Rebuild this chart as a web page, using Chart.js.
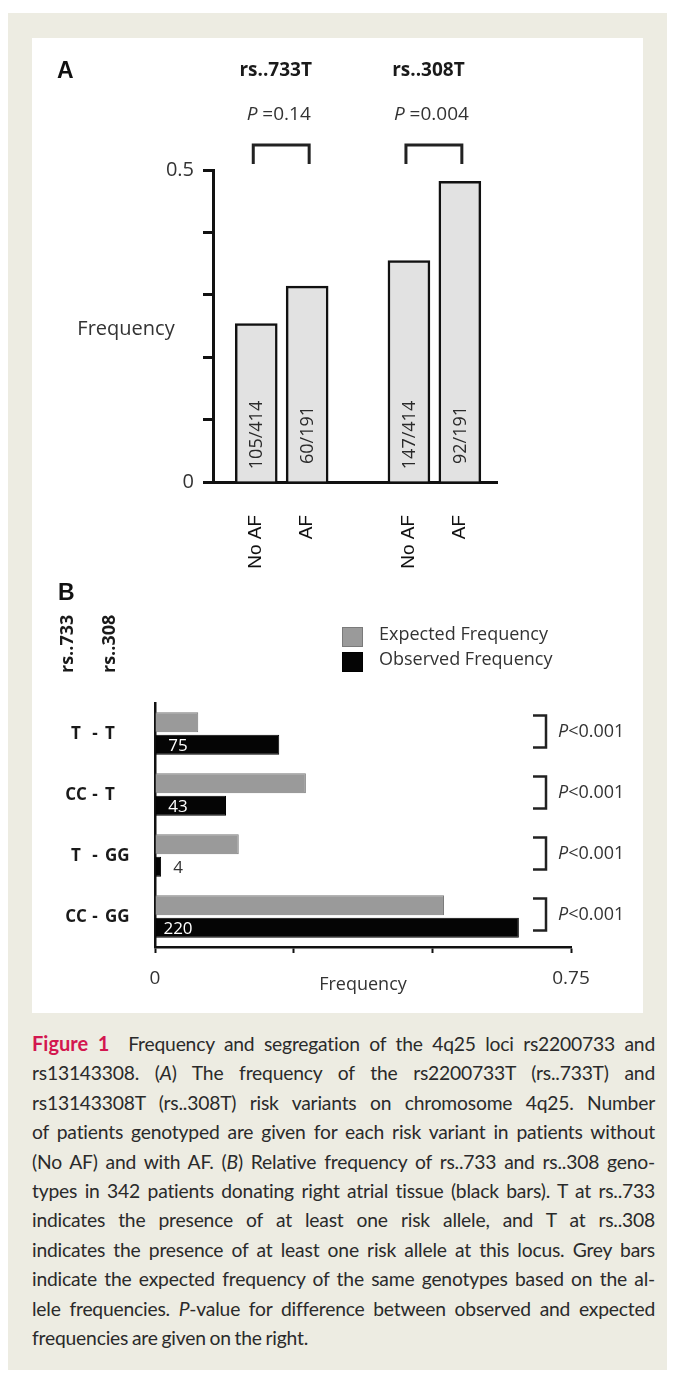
<!DOCTYPE html>
<html>
<head>
<meta charset="utf-8">
<script src="https://cdn.jsdelivr.net/npm/chart.js@4.4.1/dist/chart.umd.min.js"></script>
<style>
  body { margin: 0; background: #fff; }
  #page { position: relative; width: 675px; height: 1382px; overflow: hidden; }
  #beige { position: absolute; left: 8px; top: 13px; width: 659px; height: 1357px; background: #edece2; }
  #white { position: absolute; left: 32px; top: 38px; width: 611px; height: 975px; background: #fff; }
  canvas { position: absolute; left: 0; }
  #chartA { top: 0; }
  #chartB { top: 575px; }
  #caption { position: absolute; left: 32px; top: 1029px; width: 623px; font-family: Lato, "Open Sans", sans-serif;
             font-size: 19.3px; line-height: 29.4px; color: #2a2a2a; letter-spacing: -0.2px; word-spacing: -1px; }
  #caption div { text-align: justify; text-align-last: justify; white-space: nowrap; }
  #caption div.last { text-align-last: left; }
  #caption b { color: #d3174f; font-size: 20px; letter-spacing: 0; }
</style>
</head>
<body>
<div id="page">
  <div id="beige"></div>
  <div id="white"></div>
  <canvas id="chartA" width="675" height="580"></canvas>
  <canvas id="chartB" width="675" height="440"></canvas>
  <div id="caption">
    <div><b>Figure 1</b>&nbsp; Frequency and segregation of the 4q25 loci rs2200733 and</div>
    <div>rs13143308. (<i>A</i>) The frequency of the rs2200733T (rs..733T) and</div>
    <div>rs13143308T (rs..308T) risk variants on chromosome 4q25. Number</div>
    <div>of patients genotyped are given for each risk variant in patients without</div>
    <div>(No AF) and with AF. (<i>B</i>) Relative frequency of rs..733 and rs..308 geno-</div>
    <div>types in 342 patients donating right atrial tissue (black bars). T at rs..733</div>
    <div>indicates the presence of at least one risk allele, and T at rs..308</div>
    <div>indicates the presence of at least one risk allele at this locus. Grey bars</div>
    <div>indicate the expected frequency of the same genotypes based on the al-</div>
    <div>lele frequencies. <i>P</i>-value for difference between observed and expected</div>
    <div class="last">frequencies are given on the right.</div>
  </div>
</div>
<script>
// panel A data
var lociA = ['rs..733T', 'rs..308T'];
var pValuesA = ['0.14', '0.004'];
var afLabels = ['No AF', 'AF', 'No AF', 'AF'];
var afFreq = [0.254, 0.314, 0.355, 0.482];
var afCounts = ['105/414', '60/191', '147/414', '92/191'];
var yTicksA = ['0', '0.5'];

// panel B data
var lociB = ['rs..733', 'rs..308'];
var genotypes = ['T - T', 'CC - T', 'T - GG', 'CC - GG'];
var expectedFreq = [0.078, 0.272, 0.151, 0.521];
var observedFreq = [0.224, 0.128, 0.011, 0.656];
var observedN = ['75', '43', '4', '220'];
var pValuesB = ['<0.001', '<0.001', '<0.001', '<0.001'];
var xTicksB = ['0', '0.75'];

var sans = '"Open Sans", sans-serif';
var arial = '"Liberation Sans", Arial, sans-serif';

// slot on the x axis: two bars per locus, one empty slot between loci
function slot(i) { return i + 1 + Math.floor(i / 2); }

function italicLead(ctx, lead, rest, x, y, size, align) {
    ctx.font = 'italic ' + size + 'px ' + sans;
    var w1 = ctx.measureText(lead).width;
    ctx.font = size + 'px ' + sans;
    var w2 = ctx.measureText(rest).width;
    var x0 = align === 'center' ? x - (w1 + w2) / 2 : x;
    ctx.textAlign = 'left';
    ctx.font = 'italic ' + size + 'px ' + sans;
    ctx.fillText(lead, x0, y);
    ctx.font = size + 'px ' + sans;
    ctx.fillText(rest, x0 + w1, y);
}

/*=============================================
PANEL A
=============================================*/
var extrasA = {
    id: 'extrasA',
    afterDraw: function (chart) {
        var ctx = chart.ctx;
        var bars = chart.getDatasetMeta(0).data;
        ctx.save();
        ctx.textBaseline = 'middle';
        ctx.fillStyle = '#111';
        ctx.textAlign = 'left';
        ctx.font = 'bold 23px ' + arial;
        ctx.fillText('A', 57, 72);

        lociA.forEach(function (name, g) {
            var b1 = bars[2 * g], b2 = bars[2 * g + 1];
            var cx = (b1.x + b2.x) / 2;
            ctx.font = 'bold 19px ' + sans;
            ctx.textAlign = 'center';
            ctx.fillStyle = '#1a1a1a';
            ctx.fillText(name, cx - 6, 71);
            ctx.fillStyle = '#333';
            italicLead(ctx, 'P', ' =' + pValuesA[g], cx - 3, 115, 19, 'center');

            ctx.strokeStyle = '#222';
            ctx.lineWidth = 3;
            ctx.beginPath();
            ctx.moveTo(b1.x - 3, 164);
            ctx.lineTo(b1.x - 3, 145);
            ctx.lineTo(b2.x + 2, 145);
            ctx.lineTo(b2.x + 2, 164);
            ctx.stroke();
        });

        // counts inside the bars
        ctx.fillStyle = '#2a2a2a';
        ctx.font = '18px ' + sans;
        bars.forEach(function (bar, i) {
            ctx.save();
            ctx.translate(bar.x + 1, 435);
            ctx.rotate(-Math.PI / 2);
            ctx.textAlign = 'center';
            ctx.fillText(afCounts[i], 0, 0);
            ctx.restore();
        });

        // horizontal y title
        ctx.fillStyle = '#333';
        ctx.font = '20px ' + sans;
        ctx.textAlign = 'center';
        ctx.fillText('Frequency', 126, 329);
        ctx.restore();
    }
};

new Chart(document.getElementById('chartA'), {
    type: 'bar',
    data: {
        datasets: [{
            data: afFreq.map(function (v, i) { return { x: slot(i), y: v }; }),
            backgroundColor: '#e2e2e2',
            borderColor: '#111',
            borderWidth: 2.5,
            barThickness: 42
        }]
    },
    options: {
        responsive: false,
        animation: false,
        layout: { padding: { left: 0, top: 170, right: 178, bottom: 0 } },
        plugins: { legend: { display: false }, tooltip: { enabled: false } },
        scales: {
            x: {
                type: 'linear',
                offset: false,
                min: 0.15,
                max: 5.73,
                grid: { display: false },
                border: { color: '#111', width: 3 },
                afterBuildTicks: function (axis) {
                    axis.ticks = afLabels.map(function (l, i) { return { value: slot(i) }; });
                },
                ticks: {
                    autoSkip: false,
                    minRotation: 90,
                    maxRotation: 90,
                    padding: 25,
                    color: '#111',
                    font: { family: arial, size: 19 },
                    callback: function (v, i) { return afLabels[i]; }
                },
                afterFit: function (axis) { axis.height = 98; }
            },
            y: {
                min: 0,
                max: 0.5,
                grid: { drawOnChartArea: false, tickLength: 10, tickWidth: 3, tickColor: '#111' },
                border: { color: '#111', width: 3 },
                ticks: {
                    stepSize: 0.1,
                    padding: 9,
                    color: '#333',
                    font: { family: sans, size: 20 },
                    callback: function (v) {
                        var s = String(+v.toFixed(2));
                        return yTicksA.indexOf(s) >= 0 ? s : '';
                    }
                },
                afterFit: function (axis) { axis.width = 213; }
            }
        }
    },
    plugins: [extrasA]
});

/*=============================================
PANEL B
=============================================*/
var extrasB = {
    id: 'extrasB',
    afterDraw: function (chart) {
        var ctx = chart.ctx;
        var xs = chart.scales.x, ys = chart.scales.y;
        var area = chart.chartArea;
        ctx.save();
        ctx.textBaseline = 'middle';
        ctx.textAlign = 'left';
        ctx.fillStyle = '#111';
        ctx.font = 'bold 23px ' + arial;
        ctx.fillText('B', 58, 19);

        // rotated locus headers
        ctx.fillStyle = '#1a1a1a';
        ctx.font = 'bold 18px ' + sans;
        [68, 110].forEach(function (x, k) {
            ctx.save();
            ctx.translate(x, 98);
            ctx.rotate(-Math.PI / 2);
            ctx.textAlign = 'left';
            ctx.fillText(lociB[k], 0, 0);
            ctx.restore();
        });

        // legend
        chart.data.datasets.forEach(function (d, i) {
            var y = 52 + i * 25;
            ctx.fillStyle = d.backgroundColor;
            ctx.fillRect(342, y, 21, 20);
            ctx.strokeStyle = d.borderColor;
            ctx.lineWidth = 1;
            ctx.strokeRect(342.5, y + 0.5, 20, 19);
            ctx.fillStyle = '#333';
            ctx.font = '18px ' + sans;
            ctx.textAlign = 'left';
            ctx.fillText(d.label, 379, y + 8);
        });

        // genotype labels in two columns
        ctx.fillStyle = '#1a1a1a';
        ctx.font = 'bold 17px ' + sans;
        genotypes.forEach(function (g, i) {
            var parts = g.split(' - ');
            var y = ys.getPixelForValue(i) + 1;
            ctx.textAlign = 'center';
            ctx.fillText(parts[0], 76, y);
            ctx.fillText('-', 95, y);
            ctx.textAlign = 'left';
            ctx.fillText(parts[1], 105, y);
        });

        // counts on observed bars
        var x0 = xs.getPixelForValue(0);
        ctx.font = '17px ' + sans;
        ctx.textAlign = 'center';
        chart.getDatasetMeta(1).data.forEach(function (bar, i) {
            ctx.fillStyle = bar.x - x0 > 30 ? '#fff' : '#333';
            ctx.fillText(observedN[i], x0 + 23, bar.y + 1);
        });

        // brackets and p values
        var bx = area.right - 25;
        genotypes.forEach(function (g, i) {
            var cy = ys.getPixelForValue(i) - 2;
            ctx.strokeStyle = '#222';
            ctx.lineWidth = 2.5;
            ctx.beginPath();
            ctx.moveTo(bx - 13, cy - 16);
            ctx.lineTo(bx, cy - 16);
            ctx.lineTo(bx, cy + 16);
            ctx.lineTo(bx - 13, cy + 16);
            ctx.stroke();
            ctx.fillStyle = '#333';
            italicLead(ctx, 'P', pValuesB[i], bx + 12, cy, 18, 'left');
        });

        // x title sits level with the tick labels
        ctx.fillStyle = '#333';
        ctx.font = '18px ' + sans;
        ctx.textAlign = 'center';
        ctx.fillText('Frequency', (area.left + area.right) / 2, 410);
        ctx.restore();
    }
};

new Chart(document.getElementById('chartB'), {
    type: 'bar',
    data: {
        labels: genotypes,
        datasets: [{
            label: 'Expected Frequency',
            data: expectedFreq,
            backgroundColor: '#9a9a9a',
            borderColor: '#7a7a7a',
            borderWidth: 1,
            categoryPercentage: 0.74,
            barPercentage: 0.89
        }, {
            label: 'Observed Frequency',
            data: observedFreq,
            backgroundColor: '#050505',
            borderColor: '#000',
            borderWidth: 1,
            categoryPercentage: 0.74,
            barPercentage: 0.89
        }]
    },
    options: {
        indexAxis: 'y',
        responsive: false,
        animation: false,
        layout: { padding: { left: 0, top: 128, right: 104, bottom: 0 } },
        plugins: { legend: { display: false }, tooltip: { enabled: false } },
        scales: {
            y: {
                grid: { display: false },
                border: { color: '#111', width: 2.5 },
                ticks: { display: false },
                afterFit: function (axis) { axis.width = 155; }
            },
            x: {
                min: 0,
                max: 0.75,
                grid: { drawOnChartArea: false, tickLength: 6, tickWidth: 2, tickColor: '#111' },
                border: { color: '#111', width: 2.5 },
                ticks: {
                    stepSize: 0.25,
                    padding: 14,
                    color: '#333',
                    font: { family: sans, size: 19 },
                    callback: function (v) {
                        var s = String(+v.toFixed(2));
                        return xTicksB.indexOf(s) >= 0 ? s : '';
                    }
                },
                afterFit: function (axis) { axis.height = 68; }
            }
        }
    },
    plugins: [extrasB]
});
</script>
</body>
</html>
